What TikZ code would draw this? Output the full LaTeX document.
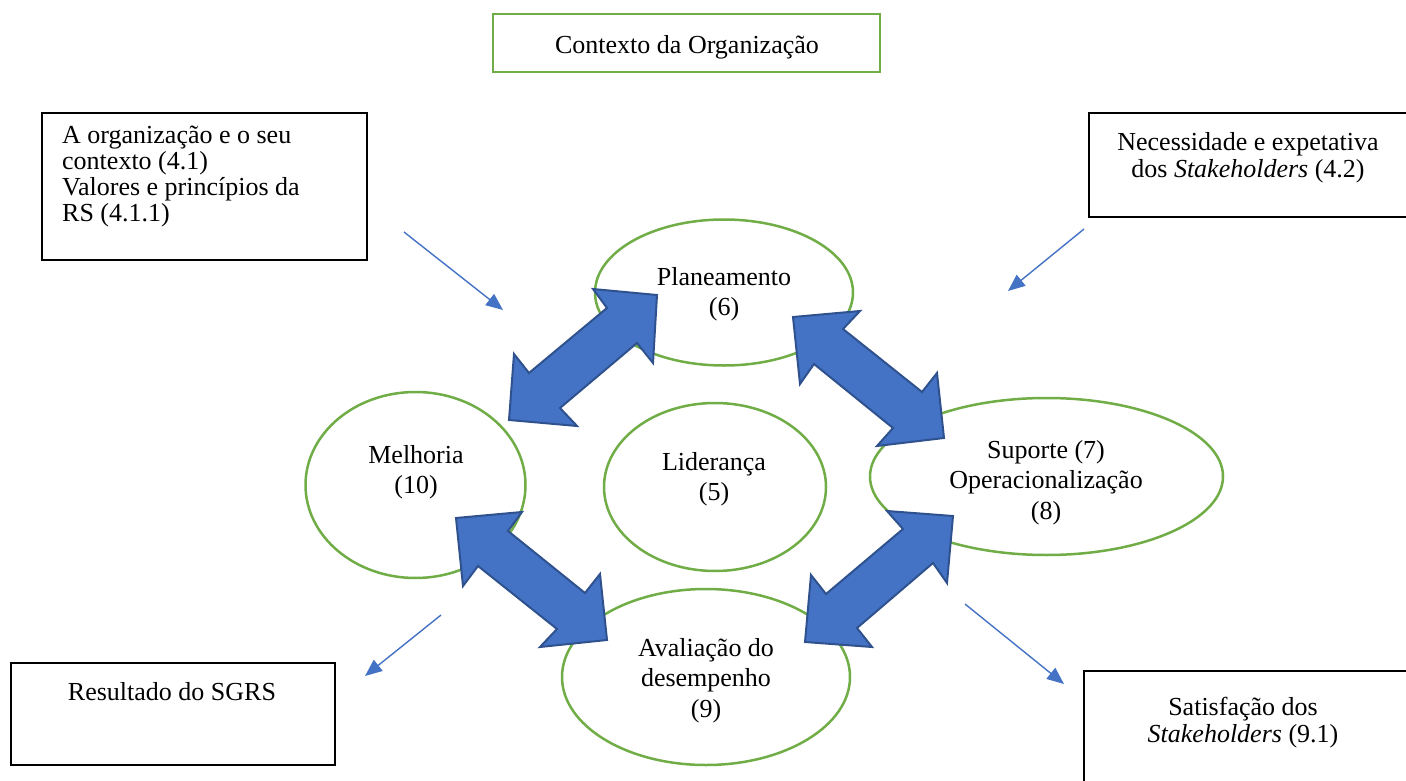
\documentclass[tikz,border=0pt]{standalone}
\usepackage{fontspec}
\setmainfont{Liberation Serif}
\usetikzlibrary{shapes.geometric,arrows.meta}
\definecolor{cgreen}{HTML}{70AD47}
\definecolor{cblue}{HTML}{4472C4}
\definecolor{cbluedark}{HTML}{2F528F}
\newcommand{\mlines}[2]{\begin{tabular}[t]{@{}#1@{}}#2\end{tabular}}
\begin{document}
\begin{tikzpicture}[x=1pt,y=-1pt,
  ell/.style={ellipse, draw=cgreen, line width=2.5pt, inner sep=0pt},
  gbox/.style={draw=cgreen, line width=2.5pt, inner sep=0pt},
  kbox/.style={draw=black, line width=2.5pt, inner sep=0pt},
  txt/.style={inner sep=0pt, anchor=base, font=\fontsize{26}{30.5}\selectfont},
  bigarrow/.style={fill=cblue, draw=cbluedark, line width=2pt, line join=miter},
  smallarrow/.style={draw=cblue, line width=1.4pt, -{Triangle[length=17pt,width=14pt]}}
]
\useasboundingbox (0,0) rectangle (1406,781);

% boxes
\node[gbox, minimum width=387pt, minimum height=58pt] (ctxbox) at (686.5,43) {};
\node[kbox, minimum width=325pt, minimum height=147pt] (leftbox) at (204.5,186.5) {};
\node[kbox, minimum width=321pt, minimum height=104pt] (rightbox) at (1249.5,165) {};
\node[kbox, minimum width=324pt, minimum height=102pt] (blbox) at (173,714) {};
\node[kbox, minimum width=328pt, minimum height=124pt] (brbox) at (1248,733) {};

\node[txt] (ctxtxt) at (687,54) {Contexto da Organização};
\node[txt, anchor=base west, font=\fontsize{26}{25.8}\selectfont] (lefttxt) at (62,144)
  {\mlines{l}{A organização e o seu\\contexto (4.1)\\Valores e princípios da\\RS (4.1.1)}};
\node[txt, font=\fontsize{26}{27.5}\selectfont] (righttxt) at (1248,150)
  {\mlines{c}{Necessidade e expetativa\\dos \textit{Stakeholders} (4.2)}};
\node[txt] (bltxt) at (172,700) {Resultado do SGRS};
\node[txt, font=\fontsize{26}{27}\selectfont] (brtxt) at (1243,715)
  {\mlines{c}{Satisfação dos\\\textit{Stakeholders} (9.1)}};

% ellipses
\node[ell, minimum width=258pt, minimum height=146pt] (plan) at (724,292.5) {};
\node[ell, minimum width=220pt, minimum height=186pt] (melh) at (415.5,485) {};
\node[ell, minimum width=222pt, minimum height=168pt] (lid) at (715,487) {};
\node[ell, minimum width=353pt, minimum height=157pt] (sup) at (1046.5,476.5) {};
\node[ell, minimum width=288pt, minimum height=176pt] (aval) at (706,677) {};

% big double arrows
\draw[bigarrow] (657,295) -- (593,289) -- (607,308) -- (529,373) -- (514,354) -- (509,420)
  -- (577,426) -- (560,408) -- (637,343) -- (653,363) -- cycle;
\draw[bigarrow] (793,317) -- (860,311) -- (843,329) -- (922,392) -- (937,373) -- (944,438)
  -- (877,446) -- (893,428) -- (814,364) -- (800,384) -- cycle;
\draw[bigarrow] (456,518) -- (522,512) -- (508,531) -- (585,593) -- (600,574) -- (607,640)
  -- (540,647) -- (557,629) -- (478,566) -- (463,586) -- cycle;
\draw[bigarrow] (953,516) -- (887,511) -- (903,529) -- (826,594) -- (811,575) -- (805,642)
  -- (872,647) -- (857,628) -- (933,563) -- (947,583) -- cycle;

% ellipse texts
\node[txt] (plant) at (724,285) {\mlines{c}{Planeamento\\(6)}};
\node[txt] (melht) at (416,463) {\mlines{c}{Melhoria\\(10)}};
\node[txt] (lidt) at (714,470) {\mlines{c}{Liderança\\(5)}};
\node[txt] (supt) at (1046,458) {\mlines{c}{Suporte (7)\\Operacionalização\\(8)}};
\node[txt] (avalt) at (706,656) {\mlines{c}{Avaliação do\\desempenho\\(9)}};

% thin arrows
\coordinate (a1s) at (404,232); \coordinate (a1e) at (503,310);
\coordinate (a2s) at (1084,229); \coordinate (a2e) at (1008,291);
\coordinate (a3s) at (441,615); \coordinate (a3e) at (365,676);
\coordinate (a4s) at (965,604); \coordinate (a4e) at (1064,684);
\draw[smallarrow] (a1s) -- (a1e);
\draw[smallarrow] (a2s) -- (a2e);
\draw[smallarrow] (a3s) -- (a3e);
\draw[smallarrow] (a4s) -- (a4e);
\end{tikzpicture}
\end{document}
